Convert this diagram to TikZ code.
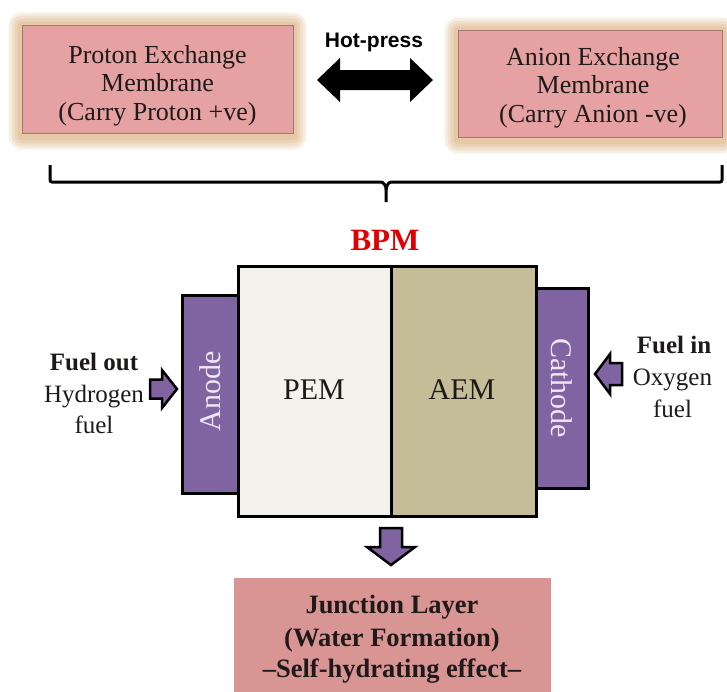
\documentclass[tikz,border=0pt]{standalone}
\usepackage{fontspec}
\setmainfont{Liberation Serif}
\newfontfamily\labelsans{Liberation Sans}
\usetikzlibrary{calc,backgrounds}

\definecolor{memfill}{HTML}{E6A2A2}
\definecolor{junfill}{HTML}{D99594}
\definecolor{glowc}{HTML}{C88A40}
\definecolor{electrode}{HTML}{8064A2}
\definecolor{electext}{HTML}{EEE8F6}
\definecolor{pemfill}{HTML}{F4F2EC}
\definecolor{aemfill}{HTML}{C4BD97}
\definecolor{bpmred}{HTML}{E00000}
\definecolor{ink}{HTML}{1E1A1A}

\tikzset{
  x=1pt, y=-1pt,
  membox/.style={draw=memfill!72!black, line width=0.7pt, fill=memfill, inner sep=0pt},
  boxtext/.style={anchor=base, text=ink, inner sep=0pt, font=\fontsize{26}{28}\selectfont},
  sidetext/.style={anchor=base, text=ink, inner sep=0pt, font=\fontsize{25}{28}\selectfont},
  sidebold/.style={sidetext, font=\fontsize{25}{28}\selectfont\bfseries},
  juntext/.style={anchor=base, text=ink, inner sep=0pt, font=\fontsize{26.5}{28}\selectfont\bfseries},
  layerbox/.style={draw=black, line width=3pt, inner sep=0pt},
  electbox/.style={draw=black, line width=3pt, fill=electrode, inner sep=0pt},
  bigtext/.style={text=ink, inner sep=0pt, font=\fontsize{30}{32}\selectfont},
  blockarrow/.style={fill=electrode, draw=black, line width=2.5pt, line join=miter},
  brace/.style={draw=black, line width=3pt, rounded corners=2pt},
}

\begin{document}
\begin{tikzpicture}
\useasboundingbox (0,0) rectangle (727,691);

% ---- the two membranes that are pressed together ----
\node[membox, minimum width=271pt, minimum height=108pt] (pemtop) at (157.5,79) {};
\node[membox, minimum width=264pt, minimum height=107pt] (aemtop) at (590,83.5) {};

% golden glow round both membrane boxes
\begin{scope}[on background layer]
  \foreach \n in {pemtop,aemtop}{
    \foreach \g in {13,10,7,4}{
      \fill[glowc, opacity=0.14, rounded corners=\g pt]
        ($(\n.south west)+(-\g,\g+3)$) rectangle ($(\n.north east)+(\g,-\g+1)$);
    }
  }
\end{scope}

\node[boxtext] (pl1) at (157.5,63) {Proton Exchange};
\node[boxtext] (pl2) at (157.5,91.5) {Membrane};
\node[boxtext] (pl3) at (157.5,120) {(Carry Proton +ve)};

\node[boxtext] (al1) at (593,65) {Anion Exchange};
\node[boxtext] (al2) at (593,93.5) {Membrane};
\node[boxtext] (al3) at (593,122) {(Carry Anion -ve)};

% hot-press double arrow
\node[anchor=base, inner sep=0pt, font=\labelsans\bfseries\fontsize{21}{24}\selectfont] (hot) at (374,47) {Hot-press};
\coordinate (hl) at (317,80);
\coordinate (hr) at (433,80);
\fill[black] (hl) -- ++(23,-22) -- ++(0,12) -- ($(hr)+(-23,-10)$) -- ++(0,-12) -- (hr)
  -- ++(-23,22) -- ++(0,-12) -- ($(hl)+(23,10)$) -- ++(0,12) -- cycle;

% brace gathering both membranes
\coordinate (bl) at (50,165);
\coordinate (br) at (722,165);
\coordinate (bm) at (386,202);
\draw[brace] (bl) |- (379,182) to[out=0,in=90] (bm |- 0,190) -- (bm);
\draw[brace] (br) |- (393,182) to[out=180,in=90] (bm |- 0,190);

% ---- bipolar membrane ----
\node[text=bpmred, inner sep=0pt, font=\fontsize{31}{34}\selectfont\bfseries] (bpm) at (385,240) {BPM};

\node[electbox, minimum width=56pt, minimum height=198pt] (anode) at (210,394) {};
\node[electbox, minimum width=52pt, minimum height=200pt] (cathode) at (562,388) {};
\node[layerbox, fill=pemfill, minimum width=153pt, minimum height=250pt] (pem) at (314.5,391) {};
\node[layerbox, fill=aemfill, minimum width=145pt, minimum height=250pt] (aem) at (463.5,391) {};

\node[bigtext] (pemlab) at (314,390) {PEM};
\node[bigtext] (aemlab) at (462,390) {AEM};
\node[bigtext, text=electext, rotate=90] (anlab) at (210,391) {Anode};
\node[bigtext, text=electext, rotate=-90] (catlab) at (562,388) {Cathode};

% fuel at the anode side
\node[sidebold] (fo1) at (94,370) {Fuel out};
\node[sidetext] (fo2) at (94,402) {Hydrogen};
\node[sidetext] (fo3) at (94,433) {fuel};
\coordinate (ltip) at (177,389);
\draw[blockarrow] (ltip) -- ++(-15,-19) -- ++(0,9.5) -- ++(-12,0) -- ++(0,19)
  -- ++(12,0) -- ++(0,9.5) -- cycle;

% fuel at the cathode side
\node[sidebold] (fi1) at (674,353) {Fuel in};
\node[sidetext] (fi2) at (672.5,385) {Oxygen};
\node[sidetext] (fi3) at (672.5,417) {fuel};
\coordinate (rtip) at (595,374);
\draw[blockarrow] (rtip) -- ++(15,-20) -- ++(0,9) -- ++(12,0) -- ++(0,22)
  -- ++(-12,0) -- ++(0,9) -- cycle;

% ---- junction layer ----
\coordinate (dtip) at (391,565);
\draw[blockarrow] (dtip) -- ++(-24,-18) -- ++(13,0) -- ++(0,-19) -- ++(22,0)
  -- ++(0,19) -- ++(13,0) -- cycle;

\node[fill=junfill, inner sep=0pt, minimum width=317pt, minimum height=122pt] (junction) at (392.5,639) {};
\node[juntext] (j1) at (392,613) {Junction Layer};
\node[juntext] (j2) at (392,646) {(Water Formation)};
\node[juntext] (j3) at (392,677) {--Self-hydrating effect--};
\end{tikzpicture}
\end{document}
